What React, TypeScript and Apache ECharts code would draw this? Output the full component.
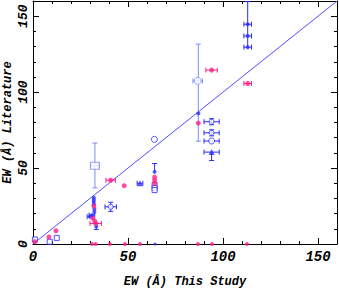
import React, { useEffect, useRef } from "react";
import * as echarts from "echarts";

// [x, y, xErr, yErrLow, yErrHigh]
const magentaPts = [
  [1, 1.5, 0, 0, 0],
  [8.4, 4.6, 0, 0, 0],
  [12.1, 8.7, 0, 0, 0],
  [32, 25, 0, 0, 0],
  [31.5, 17, 0, 0, 0],
  [32.5, 15, 0, 0, 0],
  [33, 13.5, 3, 0, 0],
  [40.9, 42, 2.5, 0, 0],
  [48, 38.4, 0, 0, 0],
  [64, 44, 0, 0, 0],
  [64, 42, 0, 0, 0],
  [64, 40, 0, 0, 0],
  [87, 79.6, 0, 0, 0],
  [94, 114.5, 3, 0, 0],
  [113, 105.7, 2, 0, 0],
];
const magentaZero = [31, 33, 40.5, 48.4, 56.3, 86.8, 94.2, 112.6];
const blueZero = [64.2];

const blueFilled = [
  [32, 30.5, 0, 0, 0],
  [32, 29, 0, 0, 0],
  [32, 27.5, 0, 0, 0],
  [32, 26, 0, 0, 0],
  [32.3, 23, 0, 0, 0],
  [32.3, 21, 0, 0, 0],
  [31, 19, 1.5, 0, 0],
  [30, 18, 1.5, 0, 0],
  [33.3, 11.5, 0, 2, 0],
  [64, 47.5, 0, 0, 5.5],
  [87, 86, 0, 0, 0],
  [113, 144.7, 2, 0, 0],
  [113, 137, 2, 0, 0],
  [113, 129.6, 2, 0, 30],
];
const blueTriangles = [
  [56.3, 40, 1.5, 0, 0],
  [94, 60.5, 4, 5.5, 0],
];
const blueSquares = [
  [1, 3, 0, 0, 0],
  [8.8, 1.5, 0, 0, 0],
  [12.5, 4, 0, 0, 0],
  [64, 38.8, 0, 0, 0],
  [64, 36.8, 0, 0, 0],
  [64, 35.5, 0, 0, 0],
];
const blueCircles = [
  [63.9, 68.9, 0, 0, 0],
  [94, 67.8, 4, 0, 0],
];
const blueCrossed = [
  [94, 80.5, 4, 2, 2],
  [94, 73.2, 4, 2, 2],
  [40.9, 24.5, 3, 3, 3],
];
const lightBlueSquare = [[32.6, 51.5, 2, 14.5, 15]];
const lightBlueCircle = [[86.7, 107.4, 2.5, 0, 0]];
const lightBlueBars = [[87, 86, 0, 18.3, 45.6]];

const xTicks = [0, 50, 100, 150];
const yTicks = [0, 50, 100, 150];
const xTitle = "EW (Å) This Study";
const yTitle = "EW (Å) Literature";

const MAG = "#ff1f86";
const BLUE = "#2b2bff";
const LBLUE = "#7d8cff";
const FONT = "Liberation Mono";

function errSeries(data: number[][], color: string) {
  return {
    type: "custom",
    silent: true,
    clip: true,
    data,
    renderItem: (_p: any, api: any) => {
      const x = api.value(0), y = api.value(1), xe = api.value(2), yl = api.value(3), yh = api.value(4);
      const ch: any[] = [];
      const st = { stroke: color, lineWidth: 1, fill: null };
      if (xe > 0) {
        const a = api.coord([x - xe, y]);
        const b = api.coord([x + xe, y]);
        ch.push({ type: "line", shape: { x1: a[0], y1: a[1], x2: b[0], y2: b[1] }, style: st });
        ch.push({ type: "line", shape: { x1: a[0], y1: a[1] - 2.5, x2: a[0], y2: a[1] + 2.5 }, style: st });
        ch.push({ type: "line", shape: { x1: b[0], y1: b[1] - 2.5, x2: b[0], y2: b[1] + 2.5 }, style: st });
      }
      if (yl > 0 || yh > 0) {
        const a = api.coord([x, y - yl]);
        const b = api.coord([x, y + yh]);
        ch.push({ type: "line", shape: { x1: a[0], y1: a[1], x2: b[0], y2: b[1] }, style: st });
        if (yl > 0) ch.push({ type: "line", shape: { x1: a[0] - 2.5, y1: a[1], x2: a[0] + 2.5, y2: a[1] }, style: st });
        if (yh > 0) ch.push({ type: "line", shape: { x1: b[0] - 2.5, y1: b[1], x2: b[0] + 2.5, y2: b[1] }, style: st });
      }
      return { type: "group", children: ch };
    },
    z: 2,
  };
}

function scatter(data: number[][], symbol: string, color: string, size: any, filled: boolean) {
  return {
    type: "scatter",
    data: data.map((d) => [d[0], d[1]]),
    symbol,
    symbolSize: size,
    itemStyle: filled ? { color } : { color: "#fff", borderColor: color, borderWidth: 1 },
    z: 3,
  };
}

export default function App() {
  const ref = useRef<HTMLDivElement>(null);
  useEffect(() => {
    if (!ref.current) return;
    const chart = echarts.init(ref.current, undefined, { renderer: "svg" });
    const axisCommon = {
      type: "value",
      min: 0,
      max: 160,
      interval: 50,
      splitLine: { show: false },
      axisLine: { show: true, onZero: false, lineStyle: { color: "#000", width: 1 } },
      axisTick: { show: true, inside: true, length: 6, lineStyle: { color: "#000" } },
      minorTick: { show: true, splitNumber: 5, length: 3, lineStyle: { color: "#000" } },
    };
    const labelStyle = {
      fontFamily: FONT,
      fontStyle: "italic",
      fontWeight: "bold",
      fontSize: 14,
      color: "#000",
    };
    const nameStyle = { fontFamily: FONT, fontStyle: "italic", fontWeight: "bold", fontSize: 12, color: "#000" };
    chart.setOption({
      animation: false,
      grid: { left: 33, right: 2, top: 1, bottom: 47, containLabel: false, outerBoundsMode: "none" },
      xAxis: [
        {
          ...axisCommon,
          position: "bottom",
          axisLabel: {
            ...labelStyle,
            margin: 6,
            formatter: (v: number) => (xTicks.includes(v) ? String(v) : ""),
          },
          name: xTitle,
          nameLocation: "middle",
          nameGap: 32,
          nameMoveOverlap: false,
          nameTextStyle: nameStyle,
        },
        { ...axisCommon, position: "top", axisLabel: { show: false } },
      ],
      yAxis: [
        {
          ...axisCommon,
          position: "left",
          axisLabel: {
            ...labelStyle,
            fontSize: 13,
            rotate: 90,
            align: "center",
            verticalAlign: "bottom",
            margin: 3,
            formatter: (v: number) => (yTicks.includes(v) ? String(v) : ""),
          },
          name: yTitle,
          nameLocation: "middle",
          nameGap: 19,
          nameMoveOverlap: false,
          nameTextStyle: nameStyle,
        },
        { ...axisCommon, position: "right", axisLabel: { show: false } },
      ],
      series: [
        {
          type: "line",
          data: [[0, 0], [160, 160]],
          symbol: "none",
          lineStyle: { color: "#5050ff", width: 1 },
          z: 1,
        },
        errSeries([...lightBlueSquare, ...lightBlueCircle, ...lightBlueBars], LBLUE),
        errSeries(magentaPts, MAG),
        errSeries([...blueFilled, ...blueTriangles, ...blueCircles, ...blueCrossed], BLUE),
        scatter(lightBlueSquare, "rect", LBLUE, [9, 7], false),
        scatter(lightBlueCircle, "circle", LBLUE, 7, false),
        scatter(blueSquares, "rect", BLUE, 5, false),
        scatter(blueCircles, "circle", BLUE, 6, false),
        scatter(blueCrossed, "circle", BLUE, 5, false),
        scatter(blueFilled, "circle", BLUE, 4, true),
        scatter(blueTriangles, "triangle", BLUE, 6, true),
        scatter(magentaPts, "circle", MAG, 5, true),
        scatter(magentaZero.map((x) => [x, 0]), "circle", MAG, 4, true),
        scatter(blueZero.map((x) => [x, 0]), "circle", BLUE, 3, true),
      ],
    });
    return () => chart.dispose();
  }, []);
  return <div ref={ref} style={{ width: 339, height: 291, position: "absolute", left: 0, top: 0 }} />;
}
